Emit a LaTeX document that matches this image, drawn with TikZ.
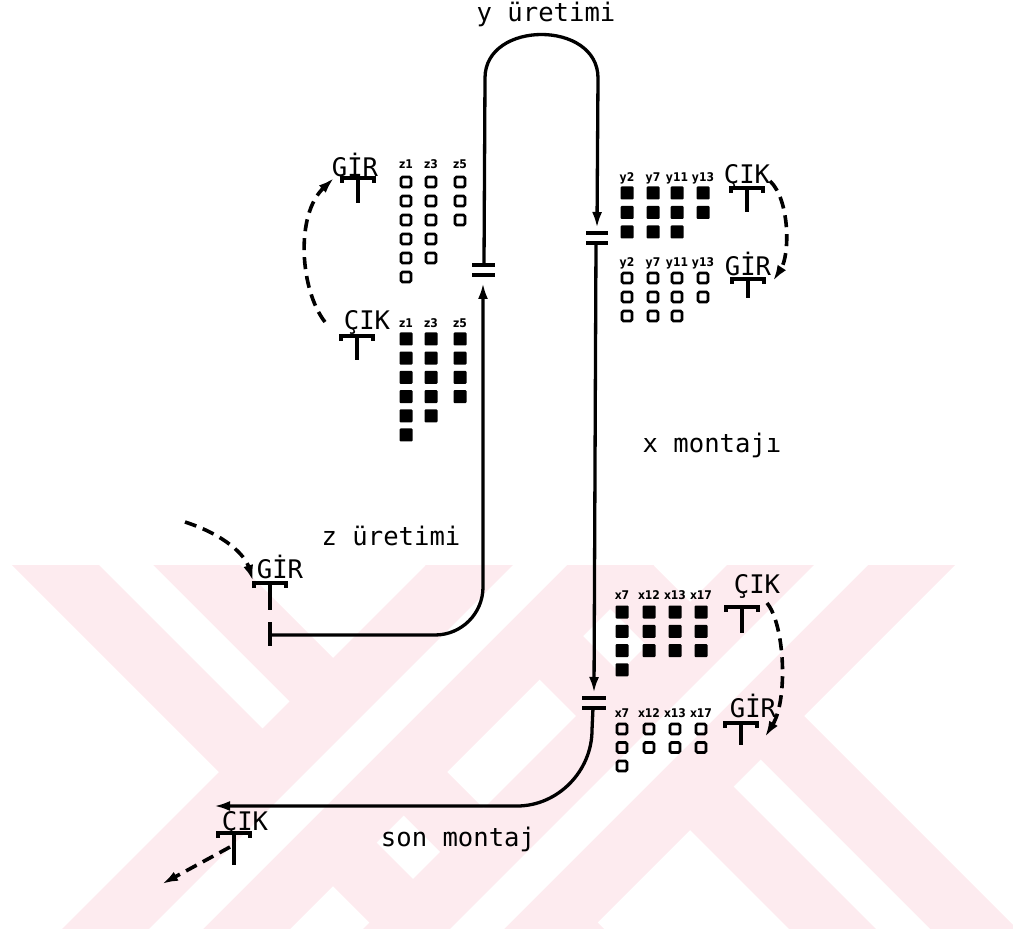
\documentclass[tikz,border=0pt]{standalone}
\usepackage{fontspec}
\newfontfamily\plot{DejaVu Sans Mono}
\newfontfamily\lab{DejaVu Sans Condensed}
\usetikzlibrary{arrows.meta}
\definecolor{wm}{RGB}{253,235,239}
\begin{document}
\begin{tikzpicture}[x=1pt,y=-1pt,
  ml/.style={line width=3.3pt},
  dl/.style={line width=3.6pt, dash pattern=on 12pt off 7pt},
  tl/.style={line width=3.2pt},
  lbl/.style={font=\plot\fontsize{25.6}{30}\selectfont, inner sep=0pt, anchor=base},
  cl/.style={font=\lab\bfseries\fontsize{12}{12}\selectfont, inner sep=0pt},
  hsq/.style={draw, line width=2.6pt, minimum size=10pt, inner sep=0pt, rounded corners=1.5pt},
  fsq/.style={fill=black, minimum size=13pt, inner sep=0pt, rounded corners=1pt},
  arr/.style={-{Latex[length=16pt,width=10pt]}},
  bar/.style={line width=3.3pt},
  pics/tee/.style={code={
    \draw[tl] (-16,5) -- (-16,0) -- (16,0) -- (16,5);
    \draw[tl] (0,0) -- (0,#1);
  }}
]
\useasboundingbox (0,0) rectangle (1013,933);
% ---------- watermark ----------
\begin{scope}
  \clip (0,565) rectangle (1013,928);
  \foreach \c in {-439,-26} {
    \fill[wm] ({\c-114+500},500) -- ({\c+114+500},500) -- ({\c+114+1000},1000) -- ({\c-114+1000},1000) -- cycle;
    \fill[white] ({\c-27+500},500) -- ({\c+27+500},500) -- ({\c+27+1000},1000) -- ({\c-27+1000},1000) -- cycle;
  }
  \foreach \d in {1105,1406} {
    \fill[wm] ({\d-114-500},500) -- ({\d+114-500},500) -- ({\d+114-1000},1000) -- ({\d-114-1000},1000) -- cycle;
    \fill[white] ({\d-27-500},500) -- ({\d+27-500},500) -- ({\d+27-1000},1000) -- ({\d-27-1000},1000) -- cycle;
  }
\end{scope}
% ---------- texts ----------
\node[lbl] (yu) at (546,22) {y üretimi};
\node[lbl] (zu) at (391,545) {z üretimi};
\node[lbl] (xm) at (712,453) {x montajı};
\node[lbl] (sm) at (458,846) {son montaj};
\node[lbl] (gir1) at (355,177) {GİR};
\node[lbl] (cik1) at (367,330) {ÇIK};
\node[lbl] (cik2) at (747,184) {ÇIK};
\node[lbl] (gir2) at (748,276) {GİR};
\node[lbl] (gir3) at (280,578) {GİR};
\node[lbl] (cik3) at (757,593) {ÇIK};
\node[lbl] (gir4) at (753,717) {GİR};
\node[lbl] (cik4) at (245,830) {ÇIK};
% ---------- T marks ----------
\pic (t1) at (358,178) {tee=25};
\pic (t2) at (357,336) {tee=24};
\pic (t3) at (747,188) {tee=24};
\pic (t4) at (748,279) {tee=19};
\pic (t5) at (270,583) {tee=27};
\pic (t6) at (742,607) {tee=26};
\pic (t7) at (741,723) {tee=22};
\pic (t8) at (234,833) {tee=32};
% ---------- main flow ----------
\coordinate (zs) at (270,635);
\coordinate (zt1) at (270,622);
\coordinate (zt2) at (270,646);
\coordinate (zc) at (483,635);
\coordinate (zup) at (483,283);
\coordinate (b1l) at (472,275); \coordinate (b1r) at (495,275);
\coordinate (b2l) at (472,265); \coordinate (b2r) at (495,265);
\coordinate (la) at (484,265);
\coordinate (lt) at (485,78);
\coordinate (rt) at (598,78);
\coordinate (rd) at (597,228);
\coordinate (b3l) at (586,233); \coordinate (b3r) at (608,233);
\coordinate (b4l) at (586,243); \coordinate (b4r) at (608,243);
\coordinate (ra) at (596,243);
\coordinate (rx) at (594,693);
\coordinate (b5l) at (582,698); \coordinate (b5r) at (606,698);
\coordinate (b6l) at (582,708); \coordinate (b6r) at (606,708);
\coordinate (sa) at (593,708);
\coordinate (sb) at (592,730);
\coordinate (sc) at (517,806);
\coordinate (se) at (214,806);

\draw[ml] (zt1) -- (zt2);
\draw[ml,arr,rounded corners=48pt] (zs) -- (zc) -- (zup);
\draw[bar] (b1l) -- (b1r);
\draw[bar] (b2l) -- (b2r);
\draw[ml,arr] (la) -- (lt) .. controls (485,20) and (598,20) .. (rt) -- (rd);
\draw[bar] (b3l) -- (b3r);
\draw[bar] (b4l) -- (b4r);
\draw[ml,arr] (ra) -- (rx);
\draw[bar] (b5l) -- (b5r);
\draw[bar] (b6l) -- (b6r);
\draw[ml,arr] (sa) -- (sb) .. controls (592,771) and (558,806) .. (sc) -- (se);
% ---------- dashed transfers ----------
\coordinate (d1s) at (325,322); \coordinate (d1e) at (334,178);
\coordinate (d2s) at (770,181); \coordinate (d2e) at (773,281);
\coordinate (d3s) at (185,522); \coordinate (d3e) at (253,581);
\coordinate (d4s) at (767,603); \coordinate (d4e) at (765,737);
\coordinate (d5s) at (230,847); \coordinate (d5e) at (162,884);
\draw[dl,arr] (d1s) .. controls (300,290) and (295,215) .. (d1e);
\draw[dl,arr] (d2s) .. controls (790,200) and (790,255) .. (d2e);
\draw[dl,arr] (d3s) .. controls (225,535) and (245,555) .. (d3e);
\draw[dl,arr] (d4s) .. controls (785,625) and (788,700) .. (d4e);
\draw[dl,arr] (d5s) -- (d5e);
% ---------- z cells ----------
\foreach \x/\t in {406/z1,431/z3,460/z5} {
  \node[cl] (zhl-\t) at (\x,164) {\t};
  \node[cl] (zfl-\t) at (\x,323) {\t};
}
\foreach \x/\n [count=\i] in {406/6,431/5,460/3}
  \foreach \r in {1,...,\n}
    \node[hsq] (zh-\i-\r) at (\x,{182+19*(\r-1)}) {};
\foreach \x/\n [count=\i] in {406/6,431/5,460/4}
  \foreach \r in {1,...,\n}
    \node[fsq] (zf-\i-\r) at (\x,{339+19.2*(\r-1)}) {};
% ---------- y cells ----------
\foreach \x/\t in {627/y2,653/y7,677/y11,703/y13} {
  \node[cl] (yfl-\t) at (\x,178) {\t};
  \node[cl] (yhl-\t) at (\x,263) {\t};
}
\foreach \x/\n [count=\i] in {627/3,653/3,677/3,703/2}
  \foreach \r in {1,...,\n}
    \node[fsq] (yf-\i-\r) at (\x,{193+19.5*(\r-1)}) {};
\foreach \x/\n [count=\i] in {627/3,653/3,677/3,703/2}
  \foreach \r in {1,...,\n}
    \node[hsq] (yh-\i-\r) at (\x,{278+19*(\r-1)}) {};
% ---------- x cells ----------
\foreach \x/\t in {622/x7,649/x12,675/x13,701/x17} {
  \node[cl] (xfl-\t) at (\x,595) {\t};
  \node[cl] (xhl-\t) at (\x,713) {\t};
}
\foreach \x/\n [count=\i] in {622/4,649/3,675/3,701/3}
  \foreach \r in {1,...,\n}
    \node[fsq] (xf-\i-\r) at (\x,{612+19.3*(\r-1)}) {};
\foreach \x/\n [count=\i] in {622/3,649/2,675/2,701/2}
  \foreach \r in {1,...,\n}
    \node[hsq] (xh-\i-\r) at (\x,{729+18.5*(\r-1)}) {};
\end{tikzpicture}
\end{document}
